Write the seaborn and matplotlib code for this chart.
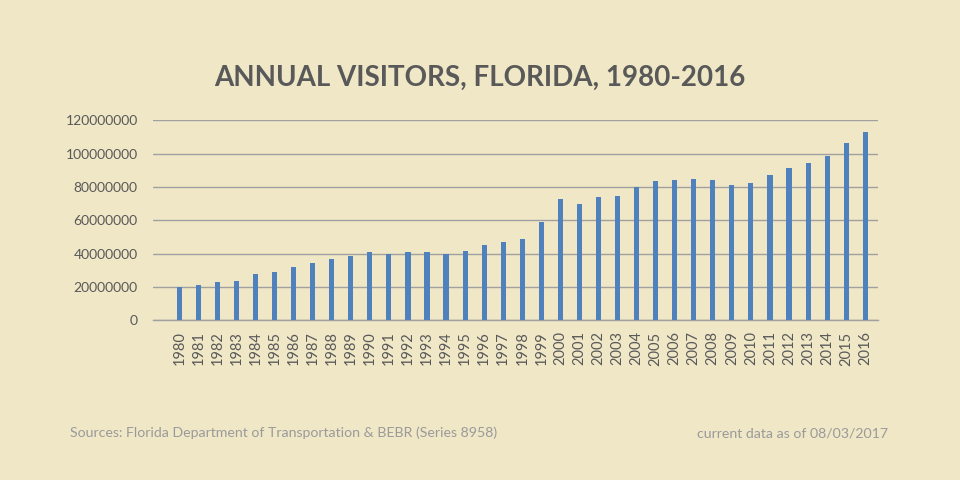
import matplotlib
matplotlib.use("Agg")
import matplotlib.pyplot as plt
import seaborn as sns
import pandas as pd

years = [str(y) for y in range(1980, 2017)]
visitors_m = [20.0, 21.2, 23.0, 23.6, 27.8, 29.0, 32.0, 34.4, 36.8, 38.6,
              41.0, 39.8, 41.0, 41.0, 39.8, 41.6, 45.2, 47.0, 48.8, 59.0,
              72.8, 69.8, 74.0, 74.6, 80.0, 83.6, 84.2, 84.8, 84.2, 81.2,
              82.4, 87.2, 91.4, 94.4, 98.6, 106.4, 113.0]
y_ticks = [0, 20000000, 40000000, 60000000, 80000000, 100000000, 120000000]

title = "ANNUAL VISITORS, FLORIDA, 1980-2016"
source = "Sources: Florida Department of Transportation & BEBR (Series 8958)"
asof = "current data as of 08/03/2017"

df = pd.DataFrame({"year": years, "visitors": [v * 1e6 for v in visitors_m]})

BG = "#EFE7C6"
BAR = "#4F81BD"
GRID = "#A0A0A0"
TXT = "#595959"

sns.set_theme(style="white")
plt.rcParams["font.family"] = ["Lato", "DejaVu Sans"]

fig = plt.figure(figsize=(9.6, 4.8), dpi=100, facecolor=BG)
ax = fig.add_axes([153/960, 1 - 320.3/480, 725/960, 200/480])
ax.set_facecolor(BG)

sns.barplot(data=df, x="year", y="visitors", order=years, color=BAR,
            width=0.27, saturation=1, linewidth=0, edgecolor=BAR,
            ax=ax, zorder=3)

ax.set_xlim(-1.38, 36.67)
ax.set_ylim(0, 120000000)
ax.set_yticks(y_ticks)
ax.set_yticklabels([str(t) for t in y_ticks])
ax.yaxis.grid(True, color=GRID, linewidth=1, zorder=0)
ax.set_axisbelow(True)
for s in ["top", "right", "left"]:
    ax.spines[s].set_visible(False)
ax.spines["bottom"].set_color(GRID)
ax.spines["bottom"].set_linewidth(1)
ax.tick_params(axis="y", length=0, pad=11, labelsize=10, labelcolor=TXT)
ax.tick_params(axis="x", length=0, pad=8, labelsize=10.5, labelcolor=TXT,
               rotation=90)
ax.set_xlabel("")
ax.set_ylabel("")

fig.text(0.5, 1 - 78/480, title, ha="center", va="center", fontsize=20,
         fontweight="bold", color=TXT)
fig.text(70/960, 1 - 433/480, source, ha="left", va="center", fontsize=10.2,
         color="#9A9A9A")
fig.text(888/960, 1 - 433/480, asof, ha="right", va="center", fontsize=10.2,
         color="#9A9A9A")

fig.savefig("out.png", dpi=100, facecolor=BG)
